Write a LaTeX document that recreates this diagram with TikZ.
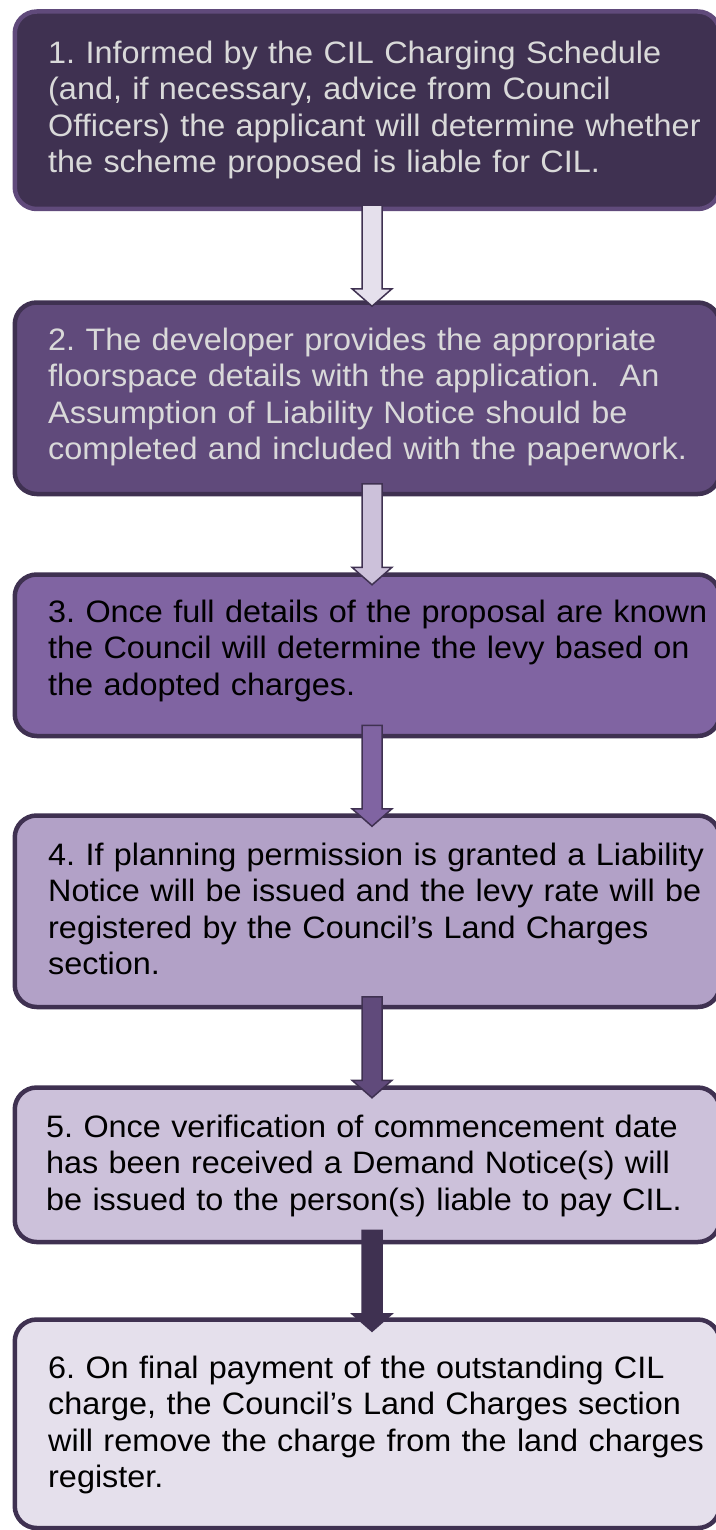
\documentclass[tikz,border=0pt]{standalone}
\usepackage{fontspec}
\setmainfont{Liberation Sans}[FakeStretch=1.045]
\usetikzlibrary{calc}
\definecolor{pA}{HTML}{3F3151}
\definecolor{pB}{HTML}{604A7B}
\definecolor{pC}{HTML}{8064A2}
\definecolor{pD}{HTML}{B2A1C7}
\definecolor{pE}{HTML}{CCC1DA}
\definecolor{pF}{HTML}{E5E0EC}
\definecolor{lighttext}{HTML}{D9D9D9}
\newcommand{\flowarrow}[3]{%
  \draw[flow, fill=#3] let \p1=(#1.south -| ax), \p2=(#2.north -| ax),
    \n1={(\y1+\y2)/2} in
    (\x1-10pt,\n1+50.5pt) -- (\x1-10pt,\n1-33pt) -- (\x1-20pt,\n1-33pt)
    -- (\x1,\n1-50.5pt) -- (\x1+20pt,\n1-33pt) -- (\x1+10pt,\n1-33pt)
    -- (\x1+10pt,\n1+50.5pt) -- cycle;}
\begin{document}
\frenchspacing
\begin{tikzpicture}[x=1pt,y=-1pt,
  box/.style={draw=pA, line width=4.5pt, rounded corners=22pt, anchor=north west,
    inner sep=0pt, minimum width=705pt},
  txt/.style={anchor=north west, align=left, inner sep=0pt, text width=690pt,
    font=\fontsize{31}{36.5}\selectfont},
  flow/.style={line width=1.5pt, draw=pA, line join=miter}]
\useasboundingbox (0,0) rectangle (715,1530);
\coordinate (ax) at (372,0);
% boxes
\node[box, fill=pA, draw=pB, minimum height=197.5pt] (b1) at (12.5,9.25) {};
\node[box, fill=pB, minimum height=191.5pt] (b2) at (12.5,300.25) {};
\node[box, fill=pC, minimum height=161.5pt] (b3) at (12.5,572.25) {};
\node[box, fill=pD, minimum height=191.5pt] (b4) at (12.5,813.25) {};
\node[box, fill=pE, minimum height=154.5pt] (b5) at (12.5,1085.25) {};
\node[box, fill=pF, minimum height=208.5pt] (b6) at (12.5,1317.25) {};
% texts
\node[txt, text=lighttext] (t1) at (48,39) {\rule{0pt}{24pt}1. Informed by the CIL Charging Schedule\\(and, if necessary, advice from Council\\Officers) the applicant will determine whether\\the scheme proposed is liable for CIL.};
\node[txt, text=lighttext] (t2) at (48,326) {\rule{0pt}{24pt}2. The developer provides the appropriate\\floorspace details with the application.\ \ An\\Assumption of Liability Notice should be\\completed and included with the paperwork.};
\node[txt, text=black] (t3) at (48,598) {\rule{0pt}{24pt}3. Once full details of the proposal are known\\the Council will determine the levy based on\\the adopted charges.};
\node[txt, text=black] (t4) at (48,841) {\rule{0pt}{24pt}4. If planning permission is granted a Liability\\Notice will be issued and the levy rate will be\\registered by the Council’s Land Charges\\section.};
\node[txt, text=black] (t5) at (46,1113) {\rule{0pt}{24pt}5. Once verification of commencement date\\has been received a Demand Notice(s) will\\be issued to the person(s) liable to pay CIL.};
\node[txt, text=black] (t6) at (48,1354) {\rule{0pt}{24pt}6. On final payment of the outstanding CIL\\charge, the Council’s Land Charges section\\will remove the charge from the land charges\\register.};
% arrows
\flowarrow{b1}{b2}{pF}
\flowarrow{b2}{b3}{pE}
\flowarrow{b3}{b4}{pC}
\flowarrow{b4}{b5}{pB}
\flowarrow{b5}{b6}{pA}
\end{tikzpicture}
\end{document}
